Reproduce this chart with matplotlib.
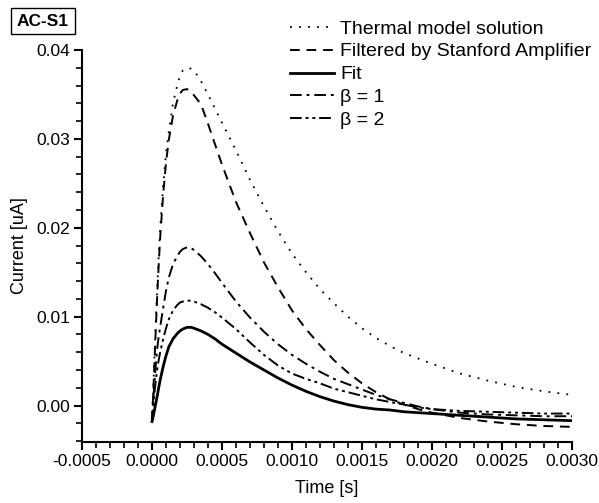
import matplotlib
matplotlib.use("Agg")
import matplotlib.pyplot as plt
from matplotlib.ticker import MultipleLocator, FormatStrFormatter

plt.rcParams['font.family'] = ['Liberation Sans', 'DejaVu Sans']

t = [0, 0.00001, 0.00002, 0.00003, 0.00004, 0.00005, 0.00006, 0.00008, 0.0001,
     0.00012, 0.00015, 0.00018, 0.0002, 0.00022, 0.00025, 0.00028, 0.0003,
     0.00035, 0.0004, 0.00045, 0.0005, 0.0006, 0.0007, 0.0008, 0.0009, 0.001,
     0.0011, 0.0012, 0.0013, 0.0014, 0.0015, 0.0016, 0.0017, 0.0018, 0.0019,
     0.002, 0.0022, 0.0024, 0.0026, 0.0028, 0.003]

thermal = [-0.0018, 0.0025, 0.0065, 0.0105, 0.0142, 0.0175, 0.0203, 0.0248, 0.0284,
           0.0308, 0.0340, 0.0360, 0.0371, 0.0377, 0.0380, 0.0379, 0.0377,
           0.0365, 0.0350, 0.0334, 0.0318, 0.0287, 0.0254, 0.0224, 0.0196, 0.0171,
           0.0150, 0.0131, 0.0115, 0.0100, 0.0087, 0.0076, 0.0067, 0.0059, 0.0053,
           0.0047, 0.0036, 0.0028, 0.0021, 0.0016, 0.0012]

filtered = [-0.0018, 0.0018, 0.0058, 0.0097, 0.0133, 0.0165, 0.0193, 0.0238, 0.0273,
            0.0299, 0.0326, 0.0343, 0.0351, 0.0355, 0.0356, 0.0353, 0.0349,
            0.0339, 0.0317, 0.0294, 0.0271, 0.0229, 0.0194, 0.0161, 0.0133, 0.0107,
            0.0086, 0.0068, 0.0051, 0.0037, 0.0025, 0.0015, 0.0007, 0.0001, -0.0004,
            -0.0008, -0.0014, -0.0018, -0.0021, -0.0023, -0.0024]

fit = [-0.0018, -0.0011, -0.0003, 0.0005, 0.0013, 0.0022, 0.0030, 0.0044, 0.0056,
       0.0066, 0.0075, 0.0081, 0.0084, 0.0086, 0.0088, 0.0088, 0.0087,
       0.0084, 0.0080, 0.0075, 0.0069, 0.0059, 0.0049, 0.0040, 0.0031, 0.0023,
       0.0016, 0.0010, 0.0005, 0.0001, -0.0002, -0.0004, -0.0005, -0.0007, -0.0008,
       -0.0009, -0.0011, -0.0013, -0.0015, -0.0016, -0.0017]

beta1 = [-0.0018, 0.0008, 0.0032, 0.0052, 0.0068, 0.0080, 0.0090, 0.0110, 0.0129,
         0.0144, 0.0159, 0.0168, 0.0173, 0.0176, 0.0178, 0.0177, 0.0175,
         0.0168, 0.0159, 0.0149, 0.0138, 0.0117, 0.0099, 0.0083, 0.0069, 0.0057,
         0.0047, 0.0038, 0.0030, 0.0024, 0.0018, 0.0012, 0.0007, 0.0003, -0.0001,
         -0.0004, -0.0008, -0.0010, -0.0011, -0.0012, -0.0012]

beta2 = [-0.0018, 0.0002, 0.0018, 0.0032, 0.0044, 0.0053, 0.0061, 0.0075, 0.0087,
         0.0097, 0.0107, 0.0113, 0.0116, 0.0117, 0.0118, 0.0118, 0.0117,
         0.0114, 0.0110, 0.0105, 0.0099, 0.0086, 0.0071, 0.0057, 0.0045, 0.0036,
         0.0030, 0.0025, 0.0019, 0.0015, 0.0011, 0.0007, 0.0004, 0.0001, -0.0002,
         -0.0004, -0.0006, -0.0007, -0.0008, -0.0009, -0.0009]

labels = ["Thermal model solution", "Filtered by Stanford Amplifier", "Fit",
          "\u03b2 = 1", "\u03b2 = 2"]

fig = plt.figure(figsize=(5.99, 5.03), dpi=100)
ax = fig.add_axes([82/599, 61/503, 490/599, 392/503])

ax.plot(t, thermal, color='black', lw=1.3, linestyle=(0, (1, 4)), label=labels[0])
ax.plot(t, filtered, color='black', lw=1.4, linestyle=(0, (5, 3.5)), label=labels[1])
ax.plot(t, fit, color='black', lw=2.0, linestyle='-', label=labels[2])
ax.plot(t, beta1, color='black', lw=1.4, linestyle=(0, (6, 2.5, 1.5, 2.5)), label=labels[3])
ax.plot(t, beta2, color='black', lw=1.4, linestyle=(0, (6, 2, 1.5, 2, 1.5, 2)), label=labels[4])

ax.set_xlim(-0.0005, 0.003)
ax.set_ylim(-0.0041, 0.04)
ax.xaxis.set_major_locator(MultipleLocator(0.0005))
ax.xaxis.set_minor_locator(MultipleLocator(0.0001))
ax.yaxis.set_major_locator(MultipleLocator(0.01))
ax.yaxis.set_minor_locator(MultipleLocator(0.002))
ax.xaxis.set_major_formatter(FormatStrFormatter('%.4f'))
ax.yaxis.set_major_formatter(FormatStrFormatter('%.2f'))

for s in ['top', 'right']:
    ax.spines[s].set_visible(False)
for s in ['left', 'bottom']:
    ax.spines[s].set_linewidth(1.5)
ax.spines['left'].set_bounds(-0.0041, 0.04)

ax.tick_params(which='major', direction='out', length=6, width=1.5, labelsize=12.5, pad=2.5)
ax.tick_params(which='minor', direction='out', length=4, width=1.2)

ax.set_xlabel("Time [s]", fontsize=13, labelpad=8)
ax.set_ylabel("Current [uA]", fontsize=13, labelpad=6)

leg = ax.legend(loc='upper left', bbox_to_anchor=(290/599, 1 - 20/503),
                bbox_transform=fig.transFigure, frameon=False, fontsize=14,
                handlelength=2.27, handletextpad=0.3, labelspacing=0.27,
                borderpad=0, borderaxespad=0)

fig.text(43/599, 1 - 21/503, "AC-S1", fontsize=12.5, fontweight='bold',
         ha='center', va='center',
         bbox=dict(boxstyle='square,pad=0.32', fc='white', ec='black', lw=1))

fig.savefig("out.png", dpi=100)
